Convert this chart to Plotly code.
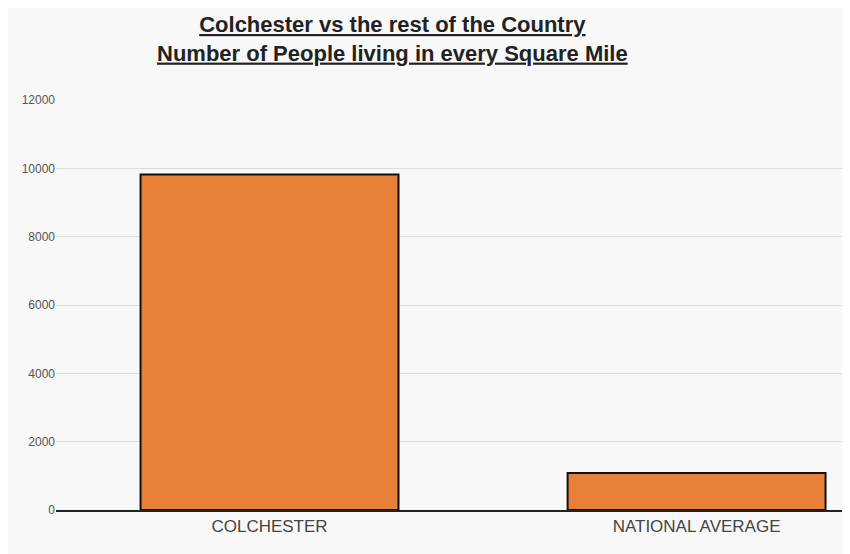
import plotly.graph_objects as go

categories = ["COLCHESTER", "NATIONAL AVERAGE"]
values = [9820, 1085]
y_ticks = [0, 2000, 4000, 6000, 8000, 10000, 12000]

fig = go.Figure(go.Bar(
    x=categories, y=values, width=0.604,
    marker=dict(color="#E9803A", line=dict(color="#111111", width=2)),
))
fig.update_layout(
    width=850, height=554,
    margin=dict(l=48, r=0, t=92, b=52),
    paper_bgcolor="#f8f8f8", plot_bgcolor="rgba(0,0,0,0)",
    showlegend=False,
    annotations=[dict(
        text="<b><u>Colchester vs the rest of the Country</u></b><br><b><u>Number of People living in every Square Mile</u></b>",
        xref="paper", yref="paper", x=0.42, y=1.0, yshift=90, xanchor="center", yanchor="top",
        showarrow=False, align="center",
        font=dict(family="Liberation Sans, Arial", size=22, color="#222222"),
    )],
    xaxis=dict(range=[-0.5, 1.378], showline=True, linecolor="#222222", linewidth=1.5,
               tickfont=dict(family="Liberation Sans, Arial", size=17, color="#444444"),
               ticks="", showgrid=False),
    yaxis=dict(range=[0, 12000], tickvals=y_ticks, tickformat="d", showgrid=True, gridcolor="#dcdcdc",
               zeroline=False, tickfont=dict(family="Liberation Sans, Arial", size=12, color="#555555")),
)
fig.write_html("out.html")
